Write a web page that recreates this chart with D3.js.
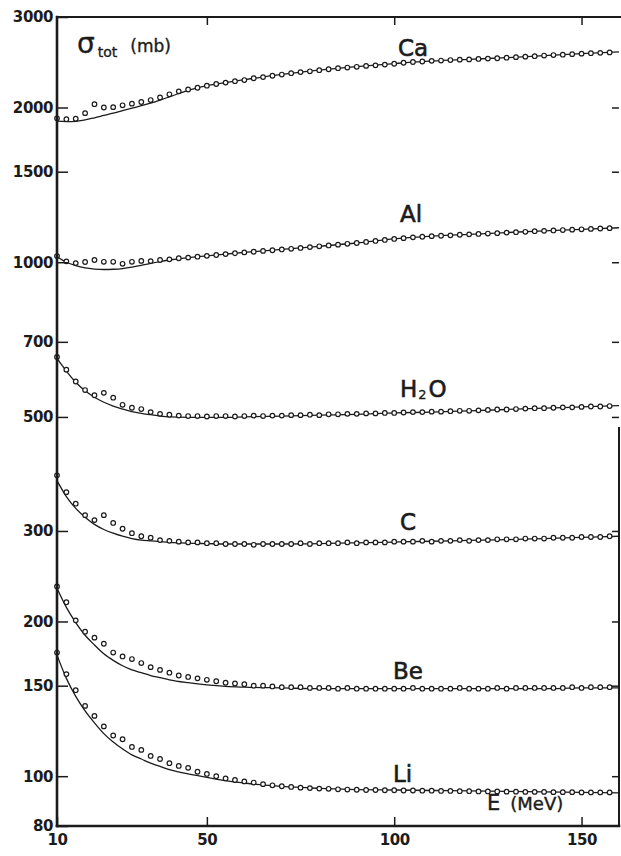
<!DOCTYPE html>
<html>
<head>
<meta charset="utf-8">
<script src="https://cdnjs.cloudflare.com/ajax/libs/d3/7.8.5/d3.min.js"></script>
<style>
body { margin: 0; background: #fff; }
svg text { font-family: "DejaVu Sans", "Liberation Sans", sans-serif; fill: #1b1b1b; }
</style>
</head>
<body>
<svg width="621" height="856"></svg>
<script>
// measured energies (MeV) of the data points
const energies = [10, 12.5, 15, 17.5, 20, 22.5, 25, 27.5, 30, 32.5, 35, 37.5, 40, 42.5, 45, 47.5, 50, 52.5, 55, 57.5,
    60, 62.5, 65, 67.5, 70, 72.5, 75, 77.5, 80, 82.5, 85, 87.5, 90, 92.5, 95, 97.5, 100, 102.5, 105, 107.5,
    110, 112.5, 115, 117.5, 120, 122.5, 125, 127.5, 130, 132.5, 135, 137.5, 140, 142.5, 145, 147.5, 150, 152.5, 155, 157.5]

// energies where the fitted curves are sampled
const fitEnergies = [10, 12.5, 15, 17.5, 20, 22.5, 25, 27.5, 30, 32.5, 35, 37.5, 40, 45, 50, 55, 60, 70, 80, 90, 100, 110, 120, 130, 140, 150, 160]

const yTicks = [3000, 2000, 1500, 1000, 700, 500, 300, 200, 150, 100, 80]
const xTicks = [10, 50, 100, 150]

// sigma_tot (mb), circles
const caPoints = [1905, 1898, 1902, 1950, 2030, 2000, 2003, 2020, 2035, 2050, 2068, 2092, 2122, 2150, 2168, 2185, 2205, 2222, 2236, 2250,
    2262, 2280, 2292, 2306, 2318, 2332, 2344, 2352, 2364, 2374, 2385, 2392, 2400, 2410, 2416, 2424, 2433, 2444, 2452, 2458,
    2465, 2468, 2474, 2478, 2481, 2486, 2490, 2494, 2500, 2506, 2512, 2517, 2524, 2530, 2534, 2540, 2546, 2551, 2555, 2560]
const alPoints = [1028, 1004, 996, 1001, 1010, 1002, 1002, 993, 1002, 1006, 1005, 1010, 1013, 1018, 1021, 1025, 1029, 1033, 1037, 1041,
    1045, 1048, 1052, 1055, 1059, 1062, 1066, 1070, 1074, 1078, 1082, 1086, 1090, 1095, 1100, 1105, 1110, 1114, 1118, 1121,
    1124, 1126, 1128, 1131, 1133, 1135, 1137, 1139, 1142, 1144, 1146, 1149, 1151, 1153, 1155, 1157, 1159, 1161, 1163, 1165]
const waterPoints = [654, 618, 586, 564, 551, 557, 545, 528, 521, 518, 511, 507, 505, 503, 502, 502, 501, 502, 502, 501,
    502, 503, 502, 503, 503, 504, 504, 505, 504, 506, 506, 507, 507, 508, 508, 509, 509, 510, 511, 511,
    512, 512, 513, 514, 514, 515, 516, 517, 517, 518, 519, 520, 520, 521, 522, 522, 523, 524, 524, 525]
const cPoints = [385, 357, 339, 322, 315, 322, 311, 303, 297, 293, 291, 288, 287, 286, 285, 285, 284, 284, 283, 283,
    283, 282, 283, 283, 283, 283, 284, 283, 284, 284, 284, 285, 284, 285, 285, 285, 286, 286, 286, 287,
    286, 287, 287, 288, 287, 288, 288, 289, 289, 289, 290, 290, 290, 291, 291, 291, 292, 292, 292, 293]
const bePoints = [234, 218, 201, 191, 186, 181, 174, 171, 169, 166, 163, 161, 159, 157, 156, 155, 154, 153, 152, 151.5,
    151, 150, 150, 149.5, 149, 149, 149, 148.5, 148.5, 148.5, 148, 148.5, 148, 148, 148, 148, 148, 148, 148.5, 148,
    148, 148, 148, 148.5, 148, 148, 148, 148.5, 148, 148.5, 148.5, 148.5, 148.5, 148.5, 148.5, 149, 148.5, 149, 149, 149]
const liPoints = [174, 158, 147, 137, 131, 125, 120, 118, 114, 112.5, 109.5, 108, 106, 104.7, 103.8, 102, 101, 100, 99, 98.3,
    97.7, 97.2, 96.5, 96, 95.6, 95.3, 95, 94.8, 94.6, 94.5, 94.3, 94.2, 94.1, 94, 94, 93.9, 93.9, 93.8, 93.8, 93.7,
    93.7, 93.6, 93.6, 93.5, 93.5, 93.4, 93.4, 93.4, 93.3, 93.3, 93.2, 93.2, 93.2, 93.1, 93.1, 93.1, 93, 93, 93, 93]

// fitted curves
const caFit = [1882, 1878, 1880, 1892, 1910, 1930, 1950, 1972, 1994, 2016, 2040, 2068, 2098, 2160, 2205, 2236, 2265, 2320, 2365, 2402, 2435, 2464, 2482, 2500, 2523, 2546, 2565]
const alFit = [1025, 1000, 985, 975, 970, 968, 969, 972, 978, 986, 995, 1003, 1010, 1021, 1029, 1037, 1045, 1059, 1074, 1090, 1110, 1124, 1133, 1142, 1151, 1159, 1167]
const waterFit = [650, 614, 584, 562, 546, 534, 525, 518, 512, 508, 505, 502, 500, 499, 499, 499, 500, 502, 504, 506, 509, 511, 514, 517, 520, 523, 526]
const cFit = [376, 350, 332, 319, 309, 302, 297, 293, 290, 288, 287, 286, 285, 284, 283.5, 283, 283, 283, 283.5, 284.5, 285.5, 286.5, 287.5, 288.5, 290, 291.5, 293]
const beFit = [232, 213, 199, 188, 180, 173, 168, 164, 161, 159, 157, 155.5, 154, 152, 150.5, 149.5, 149, 148.5, 148, 148, 148, 148, 148, 148, 148, 148.5, 148.5]
const liFit = [172, 155, 143, 134, 127, 121, 116.5, 113, 110, 108, 106, 104.5, 103, 101, 99.5, 98, 97, 95.5, 94.7, 94.2, 94, 93.8, 93.6, 93.4, 93.2, 93, 92.8]

const seriesNames = ["Ca", "Al", "H2O", "C", "Be", "Li"]
const seriesPoints = [caPoints, alPoints, waterPoints, cPoints, bePoints, liPoints]
const seriesFits = [caFit, alFit, waterFit, cFit, beFit, liFit]

const ink = "#1b1b1b"
const plotLeft = 57, plotRight = 619, plotTop = 17, plotBottom = 826

const x = d3.scaleLinear().domain([10, 160]).range([plotLeft, plotRight])
const y = d3.scaleLog().domain([80, 3000]).range([plotBottom, plotTop])

const svg = d3.select("svg")

// fitted curves
const line = d3.line()
    .x((d, i) => x(fitEnergies[i]))
    .y(d => y(d))
    .curve(d3.curveMonotoneX)

svg.append("g")
    .attr("id", "fits")
    .selectAll("path.fit")
    .data(seriesFits)
    .enter()
    .append("path")
    .attr("class", "fit")
    .attr("d", line)
    .style("fill", "none")
    .style("stroke", ink)
    .style("stroke-width", 1.3)

// data circles
svg.append("g")
    .attr("id", "points")
    .selectAll("g.series")
    .data(seriesPoints)
    .enter()
    .append("g")
    .attr("class", "series")
    .selectAll("circle")
    .data(d => d)
    .enter()
    .append("circle")
    .attr("cx", (d, i) => x(energies[i]))
    .attr("cy", d => y(d))
    .attr("r", 2.3)
    .style("fill", "#fff")
    .style("stroke", ink)
    .style("stroke-width", 1.2)

// axes
svg.append("g")
    .attr("transform", `translate(${plotLeft},0)`)
    .call(d3.axisLeft(y).tickValues(yTicks).tickFormat(d3.format("d")).tickSize(-11).tickSizeOuter(0).tickPadding(4))

svg.append("g")
    .attr("transform", `translate(${plotRight},0)`)
    .call(d3.axisLeft(y).tickValues(yTicks.slice(1, -1)).tickFormat("").tickSize(7).tickSizeOuter(0))

svg.append("g")
    .attr("transform", `translate(0,${plotBottom})`)
    .call(d3.axisBottom(x).tickValues(xTicks).tickSize(-9).tickSizeOuter(0).tickPadding(8))

svg.append("g")
    .attr("transform", `translate(0,${plotTop})`)
    .call(d3.axisTop(x).tickValues(xTicks.slice(1)).tickFormat("").tickSize(-8).tickSizeOuter(0))

svg.selectAll(".domain").remove()
svg.selectAll(".tick line").style("stroke", ink).style("stroke-width", 1.5)
svg.selectAll("g").attr("font-family", null).attr("font-size", null)
svg.selectAll(".tick text")
    .style("fill", ink)
    .style("font-size", "15px")
    .style("font-weight", "bold")
    .style("letter-spacing", "-0.4px")

// frame
const frame = svg.append("g").style("stroke", ink).style("fill", "none").style("stroke-linecap", "square")
frame.append("line").attr("x1", plotLeft).attr("x2", plotLeft).attr("y1", plotTop).attr("y2", plotBottom).style("stroke-width", 2.6)
frame.append("line").attr("x1", plotLeft).attr("x2", 621).attr("y1", plotTop).attr("y2", plotTop).style("stroke-width", 2.2)
frame.append("line").attr("x1", plotLeft).attr("x2", plotRight).attr("y1", plotBottom).attr("y2", plotBottom).style("stroke-width", 2.6)
frame.append("line").attr("x1", plotRight).attr("x2", plotRight).attr("y1", 428).attr("y2", plotBottom).style("stroke-width", 2)

// series labels
const labelSpots = [[398, 56], [400, 222], [400, 397], [400, 530], [393, 679], [393, 782]]
const labels = svg.append("g")
    .selectAll("text.series")
    .data(seriesNames)
    .enter()
    .append("text")
    .attr("class", "series")
    .attr("x", (d, i) => labelSpots[i][0])
    .attr("y", (d, i) => labelSpots[i][1])
    .style("font-size", "23px")
    .style("stroke", ink)
    .style("stroke-width", 0.6)

labels.filter(d => d !== "H2O").text(d => d)
const water = labels.filter(d => d === "H2O")
water.append("tspan").text("H")
water.append("tspan").text("2").attr("dx", 1).attr("dy", 2).style("font-size", "13px").style("stroke-width", 0.3)
water.append("tspan").text("O").attr("dx", 2).attr("dy", -2)

// axis titles
const title = svg.append("text").attr("x", 77).attr("y", 53)
title.append("tspan").text("σ").style("font-size", "28px")
title.append("tspan").text("tot").attr("dx", 3).attr("dy", 4).style("font-size", "14px")
title.append("tspan").text("(mb)").attr("dx", 13).attr("dy", -5).style("font-size", "17px")
title.selectAll("tspan").style("stroke", ink).style("stroke-width", 0.35)

const eLabel = svg.append("text")
    .attr("x", 487)
    .attr("y", 810)
    .style("stroke", ink)
    .style("stroke-width", 0.4)
eLabel.append("tspan").text("E").style("font-size", "21px")
eLabel.append("tspan").text("(MeV)").attr("dx", 10).style("font-size", "18px")
</script>
</body>
</html>
